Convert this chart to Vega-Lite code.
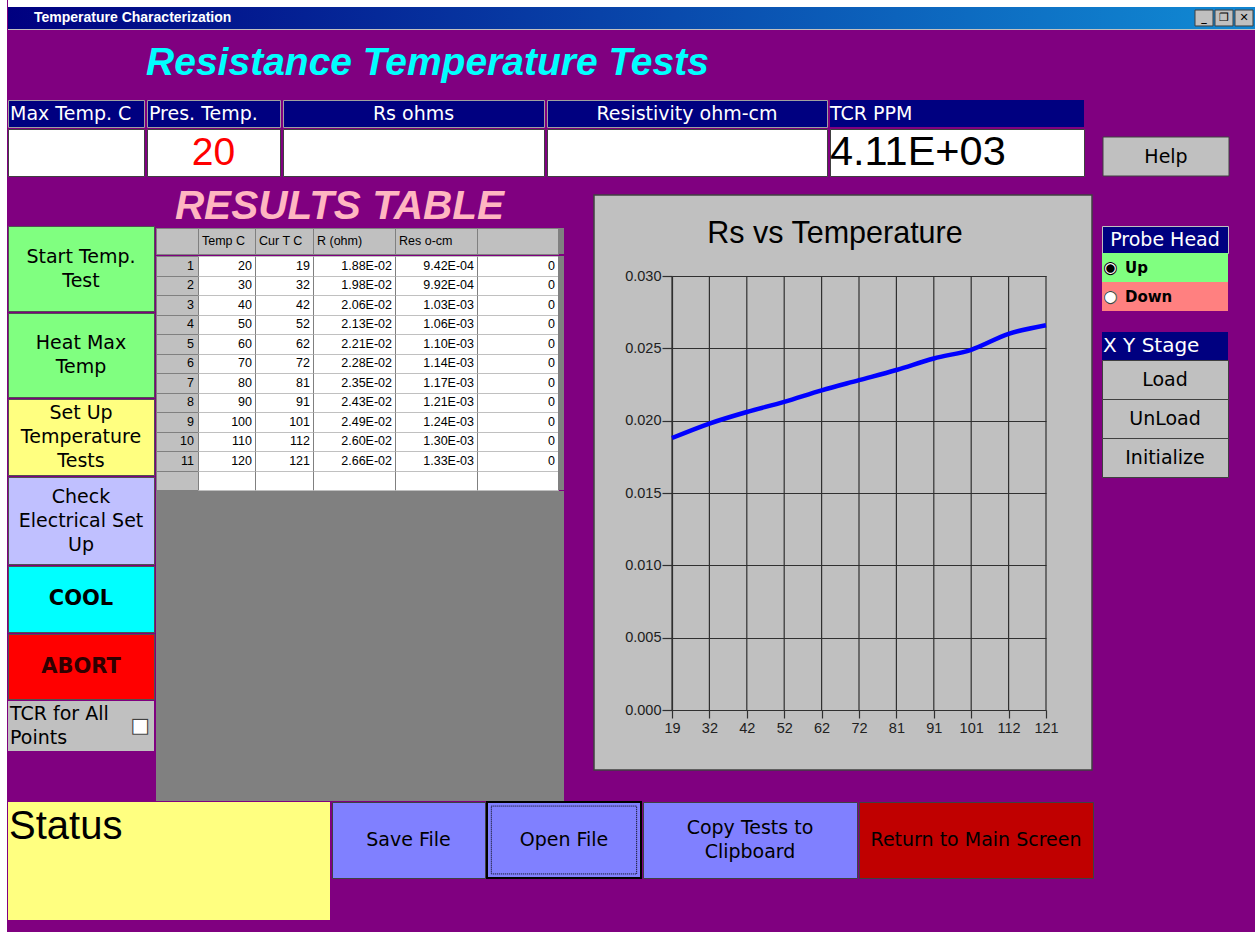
{
"$schema": "https://vega.github.io/schema/vega-lite/v6.json",
"padding": 0,
"background": "#800080",
"spacing": 0,
"config": {"view": {"stroke": null}, "text": {"font": "DejaVu Sans", "color": "#000000"}},
"datasets": {
"results": [
{"n":1,"temp":20,"cur":19,"r":0.0188,"rs":"1.88E-02","res":"9.42E-04","v":0},
{"n":2,"temp":30,"cur":32,"r":0.0198,"rs":"1.98E-02","res":"9.92E-04","v":0},
{"n":3,"temp":40,"cur":42,"r":0.0206,"rs":"2.06E-02","res":"1.03E-03","v":0},
{"n":4,"temp":50,"cur":52,"r":0.0213,"rs":"2.13E-02","res":"1.06E-03","v":0},
{"n":5,"temp":60,"cur":62,"r":0.0221,"rs":"2.21E-02","res":"1.10E-03","v":0},
{"n":6,"temp":70,"cur":72,"r":0.0228,"rs":"2.28E-02","res":"1.14E-03","v":0},
{"n":7,"temp":80,"cur":81,"r":0.0235,"rs":"2.35E-02","res":"1.17E-03","v":0},
{"n":8,"temp":90,"cur":91,"r":0.0243,"rs":"2.43E-02","res":"1.21E-03","v":0},
{"n":9,"temp":100,"cur":101,"r":0.0249,"rs":"2.49E-02","res":"1.24E-03","v":0},
{"n":10,"temp":110,"cur":112,"r":0.0260,"rs":"2.60E-02","res":"1.30E-03","v":0},
{"n":11,"temp":120,"cur":121,"r":0.0266,"rs":"2.66E-02","res":"1.33E-03","v":0}
],
"fields": [
{"field":"Max Temp. C","value":""},
{"field":"Pres. Temp.","value":"20"},
{"field":"Rs ohms","value":""},
{"field":"Resistivity ohm-cm","value":""},
{"field":"TCR PPM","value":"4.11E+03"}
]
},
"hconcat": [
{"width":7,"height":932,"view":{"fill":"#ffffff"},"data":{"values":[]},"mark":"rect"},
{"spacing":0,"vconcat":[
{"width":1248,"height":7,"view":{"fill":"#ffffff"},"data":{"values":[]},"mark":"rect"},
{"spacing":0,"bounds":"flush","hconcat":[
{"width":1184,"height":22,"data":{"values":[{"t":"Temperature Characterization"}]},"layer":[
{"mark":{"type":"rect","color":{"gradient":"linear","x1":0,"y1":0,"x2":1,"y2":0,"stops":[{"offset":0,"color":"#000080"},{"offset":1,"color":"#1084d0"}]}},"encoding":{}},
{"mark":{"type":"text","color":"#ffffff","font":"Liberation Sans","fontWeight":"bold","fontSize":14,"align":"left","dx":26},"encoding":{"text":{"field":"t","type":"nominal"},"x":{"datum":"a","type":"nominal","scale":{"type":"point","padding":0,"align":0},"axis":null}}}
]},
{"width":64,"height":22,"view":{"fill":"#1084d0"},"data":{"values":[{"b":"min","g":"_"},{"b":"max","g":"❐"},{"b":"close","g":"✕"}]},
"encoding":{"x":{"field":"b","type":"nominal","sort":null,"scale":{"paddingInner":0.1,"paddingOuter":0.15},"axis":null},"y":{"datum":"r","type":"nominal","scale":{"paddingOuter":0.19},"axis":null}},
"layer":[
{"mark":{"type":"rect","color":"#c0c0c0","stroke":"#404040","strokeWidth":1}},
{"mark":{"type":"text","fontWeight":"bold","fontSize":11,"color":"#000000"},"encoding":{"text":{"field":"g","type":"nominal"}}}
]}
]},
{"width":1248,"height":1,"view":{"fill":"#c0c0c0"},"data":{"values":[]},"mark":"rect"},
{"width":839,"height":69,"data":{"values":[{"t":"Resistance Temperature Tests"}]},"mark":{"type":"text","font":"Liberation Sans","fontSize":39,"fontStyle":"italic","fontWeight":"bold","color":"#00ffff","dy":-2},"encoding":{"text":{"field":"t","type":"nominal"}}},
{"spacing":0,"vconcat":[
{"spacing":3,"bounds":"flush","hconcat":[
{"width":136,"height":27,"view":{"fill":"#000080","stroke":"#a0a0a0"},"data":{"name":"fields"},"transform":[{"filter":"datum.field === 'Max Temp. C'"}],"mark":{"type":"text","color":"#ffffff","fontSize":19,"align":"left","dx":2},"encoding":{"text":{"field":"field","type":"nominal"},"x":{"datum":"a","type":"nominal","scale":{"type":"point","padding":0,"align":0},"axis":null}}},
{"width":133,"height":27,"view":{"fill":"#000080","stroke":"#a0a0a0"},"data":{"name":"fields"},"transform":[{"filter":"datum.field === 'Pres. Temp.'"}],"mark":{"type":"text","color":"#ffffff","fontSize":19,"align":"left","dx":2},"encoding":{"text":{"field":"field","type":"nominal"},"x":{"datum":"a","type":"nominal","scale":{"type":"point","padding":0,"align":0},"axis":null}}},
{"width":261,"height":27,"view":{"fill":"#000080","stroke":"#a0a0a0"},"data":{"name":"fields"},"transform":[{"filter":"datum.field === 'Rs ohms'"}],"mark":{"type":"text","color":"#ffffff","fontSize":19},"encoding":{"text":{"field":"field","type":"nominal"}}},
{"width":280,"height":27,"view":{"fill":"#000080","stroke":"#a0a0a0"},"data":{"name":"fields"},"transform":[{"filter":"datum.field === 'Resistivity ohm-cm'"}],"mark":{"type":"text","color":"#ffffff","fontSize":19},"encoding":{"text":{"field":"field","type":"nominal"}}},
{"width":254,"height":27,"view":{"fill":"#000080"},"data":{"name":"fields"},"transform":[{"filter":"datum.field === 'TCR PPM'"}],"mark":{"type":"text","color":"#ffffff","fontSize":19,"align":"left","dx":0},"encoding":{"text":{"field":"field","type":"nominal"},"x":{"datum":"a","type":"nominal","scale":{"type":"point","padding":0,"align":0},"axis":null}}}
]},
{"spacing":3,"bounds":"flush","hconcat":[
{"width":136,"height":47,"view":{"fill":"#ffffff","stroke":"#404040"},"data":{"name":"fields"},"transform":[{"filter":"datum.field === 'Max Temp. C'"}],"mark":{"type":"text","font":"Liberation Sans","fontSize":39},"encoding":{"text":{"field":"value","type":"nominal"}}},
{"width":133,"height":47,"view":{"fill":"#ffffff","stroke":"#404040"},"data":{"name":"fields"},"transform":[{"filter":"datum.field === 'Pres. Temp.'"}],"mark":{"type":"text","font":"Liberation Sans","fontSize":39,"color":"#ff0000"},"encoding":{"text":{"field":"value","type":"nominal"}}},
{"width":261,"height":47,"view":{"fill":"#ffffff","stroke":"#404040"},"data":{"name":"fields"},"transform":[{"filter":"datum.field === 'Rs ohms'"}],"mark":{"type":"text","font":"Liberation Sans","fontSize":39},"encoding":{"text":{"field":"value","type":"nominal"}}},
{"width":280,"height":47,"view":{"fill":"#ffffff","stroke":"#404040"},"data":{"name":"fields"},"transform":[{"filter":"datum.field === 'Resistivity ohm-cm'"}],"mark":{"type":"text","font":"Liberation Sans","fontSize":39},"encoding":{"text":{"field":"value","type":"nominal"}}},
{"width":254,"height":47,"view":{"fill":"#ffffff","stroke":"#404040"},"data":{"name":"fields"},"transform":[{"filter":"datum.field === 'TCR PPM'"}],"mark":{"type":"text","font":"Liberation Sans","fontSize":41.5,"align":"left","dx":0},"encoding":{"text":{"field":"value","type":"nominal"},"x":{"datum":"a","type":"nominal","scale":{"type":"point","padding":0,"align":0},"axis":null}}},
{"width":13,"height":47,"data":{"values":[]},"mark":"rect"},
{"width":126,"height":47,"data":{"values":[{"label":"Help"}]},"encoding":{"y":{"datum":"a","type":"nominal","scale":{"type":"band","paddingInner":0,"paddingOuter":0.1026,"align":1},"axis":null}},"layer":[
{"mark":{"type":"rect","color":"#c0c0c0","stroke":"#404040","strokeWidth":1}},
{"mark":{"type":"text","fontSize":19},"encoding":{"text":{"field":"label","type":"nominal"}}}
]}
]}
]},
{"spacing":0,"hconcat":[
{"spacing":2,"bounds":"flush","vconcat":[
{"width":146,"height":47,"data":{"values":[]},"mark":"rect"},
{"width":146,"height":85,"view":{"fill":"#80ff80","stroke":"#505050"},"data":{"values":[{"label":"Start Temp.\nTest"}]},"mark":{"type":"text","fontSize":19,"lineBreak":"\n","lineHeight":24,"dy":-12},"encoding":{"text":{"field":"label","type":"nominal"}}},
{"width":146,"height":84,"view":{"fill":"#80ff80","stroke":"#505050"},"data":{"values":[{"label":"Heat Max\nTemp"}]},"mark":{"type":"text","fontSize":19,"lineBreak":"\n","lineHeight":24,"dy":-12},"encoding":{"text":{"field":"label","type":"nominal"}}},
{"width":146,"height":76,"view":{"fill":"#ffff80","stroke":"#505050"},"data":{"values":[{"label":"Set Up\nTemperature\nTests"}]},"mark":{"type":"text","fontSize":19,"lineBreak":"\n","lineHeight":24,"dy":-24},"encoding":{"text":{"field":"label","type":"nominal"}}},
{"width":146,"height":87,"view":{"fill":"#c0c0ff","stroke":"#505050"},"data":{"values":[{"label":"Check\nElectrical Set\nUp"}]},"mark":{"type":"text","fontSize":19,"lineBreak":"\n","lineHeight":24,"dy":-24},"encoding":{"text":{"field":"label","type":"nominal"}}},
{"width":146,"height":66,"view":{"fill":"#00ffff","stroke":"#505050"},"data":{"values":[{"label":"COOL"}]},"mark":{"type":"text","fontSize":21,"fontWeight":"bold"},"encoding":{"text":{"field":"label","type":"nominal"}}},
{"width":146,"height":65,"view":{"fill":"#ff0000","stroke":"#505050"},"data":{"values":[{"label":"ABORT"}]},"mark":{"type":"text","fontSize":21,"fontWeight":"bold","color":"#300000"},"encoding":{"text":{"field":"label","type":"nominal"}}},
{"width":146,"height":50,"view":{"fill":"#c0c0c0"},"data":{"values":[{"label":"TCR for All\nPoints"}]},
"encoding":{"x":{"datum":"L","type":"nominal","scale":{"type":"point","padding":0,"domain":["L","R"]},"axis":null}},
"layer":[
{"mark":{"type":"text","fontSize":19,"lineBreak":"\n","lineHeight":24,"align":"left","dx":2,"dy":-12},"encoding":{"text":{"field":"label","type":"nominal"}}},
{"mark":{"type":"text","text":"■","color":"#ffffff","fontSize":21,"align":"right","dx":-4},"encoding":{"x":{"datum":"R","type":"nominal"}}},
{"mark":{"type":"text","text":"□","color":"#404040","fontSize":21,"align":"right","dx":-4},"encoding":{"x":{"datum":"R","type":"nominal"}}}
]}
]},
{"spacing":0,"vconcat":[
{"width":367,"height":49,"data":{"values":[{"t":"RESULTS TABLE"}]},"mark":{"type":"text","font":"Liberation Sans","fontSize":40.5,"fontStyle":"italic","fontWeight":"bold","color":"#ffb6c1","dy":5},"encoding":{"text":{"field":"t","type":"nominal"}}},
{"spacing":0,"bounds":"flush","hconcat":[
{"width":42,"height":26,"view":{"fill":"#c0c0c0","stroke":"#808080"},"data":{"values":[{"h":""}]},"mark":{"type":"text","font":"Liberation Sans","fontSize":12.5,"align":"left","dx":4},"encoding":{"text":{"field":"h","type":"nominal"},"x":{"datum":"a","type":"nominal","scale":{"type":"point","padding":0,"align":0},"axis":null}}},
{"width":57,"height":26,"view":{"fill":"#c0c0c0","stroke":"#808080"},"data":{"values":[{"h":"Temp C"}]},"mark":{"type":"text","font":"Liberation Sans","fontSize":12.5,"align":"left","dx":4},"encoding":{"text":{"field":"h","type":"nominal"},"x":{"datum":"a","type":"nominal","scale":{"type":"point","padding":0,"align":0},"axis":null}}},
{"width":58,"height":26,"view":{"fill":"#c0c0c0","stroke":"#808080"},"data":{"values":[{"h":"Cur T C"}]},"mark":{"type":"text","font":"Liberation Sans","fontSize":12.5,"align":"left","dx":4},"encoding":{"text":{"field":"h","type":"nominal"},"x":{"datum":"a","type":"nominal","scale":{"type":"point","padding":0,"align":0},"axis":null}}},
{"width":82,"height":26,"view":{"fill":"#c0c0c0","stroke":"#808080"},"data":{"values":[{"h":"R (ohm)"}]},"mark":{"type":"text","font":"Liberation Sans","fontSize":12.5,"align":"left","dx":4},"encoding":{"text":{"field":"h","type":"nominal"},"x":{"datum":"a","type":"nominal","scale":{"type":"point","padding":0,"align":0},"axis":null}}},
{"width":82,"height":26,"view":{"fill":"#c0c0c0","stroke":"#808080"},"data":{"values":[{"h":"Res o-cm"}]},"mark":{"type":"text","font":"Liberation Sans","fontSize":12.5,"align":"left","dx":4},"encoding":{"text":{"field":"h","type":"nominal"},"x":{"datum":"a","type":"nominal","scale":{"type":"point","padding":0,"align":0},"axis":null}}},
{"width":81,"height":26,"view":{"fill":"#c0c0c0","stroke":"#808080"},"data":{"values":[{"h":""}]},"mark":{"type":"text","font":"Liberation Sans","fontSize":12.5,"align":"left","dx":4},"encoding":{"text":{"field":"h","type":"nominal"},"x":{"datum":"a","type":"nominal","scale":{"type":"point","padding":0,"align":0},"axis":null}}},
{"width":6,"height":26,"view":{"fill":"#808080"},"data":{"values":[]},"mark":"rect"}
]},
{"spacing":0,"bounds":"flush","hconcat":[
{"width":42,"height":234,"view":{"fill":"#c0c0c0","stroke":"#808080"},"data":{"name":"results"},"mark":{"type":"text","font":"Liberation Sans","fontSize":12.5,"align":"right","dx":-4},"encoding":{"text":{"field":"n","type":"nominal"},"x":{"datum":"a","type":"nominal","scale":{"type":"point","padding":0,"align":1},"axis":null},"y":{"field":"n","type":"ordinal","scale":{"type":"band","domain":[1,2,3,4,5,6,7,8,9,10,11,12],"paddingInner":0,"paddingOuter":0},"axis":{"title":null,"labels":false,"ticks":false,"domain":false,"grid":true,"gridColor":"#808080","tickBand":"extent"}}}},
{"width":57,"height":234,"view":{"fill":"#ffffff","stroke":"#808080"},"data":{"name":"results"},"mark":{"type":"text","font":"Liberation Sans","fontSize":12.5,"align":"right","dx":-3},"encoding":{"text":{"field":"temp","type":"nominal"},"x":{"datum":"a","type":"nominal","scale":{"type":"point","padding":0,"align":1},"axis":null},"y":{"field":"n","type":"ordinal","scale":{"type":"band","domain":[1,2,3,4,5,6,7,8,9,10,11,12],"paddingInner":0,"paddingOuter":0},"axis":{"title":null,"labels":false,"ticks":false,"domain":false,"grid":true,"gridColor":"#c0c0c0","tickBand":"extent"}}}},
{"width":58,"height":234,"view":{"fill":"#ffffff","stroke":"#808080"},"data":{"name":"results"},"mark":{"type":"text","font":"Liberation Sans","fontSize":12.5,"align":"right","dx":-3},"encoding":{"text":{"field":"cur","type":"nominal"},"x":{"datum":"a","type":"nominal","scale":{"type":"point","padding":0,"align":1},"axis":null},"y":{"field":"n","type":"ordinal","scale":{"type":"band","domain":[1,2,3,4,5,6,7,8,9,10,11,12],"paddingInner":0,"paddingOuter":0},"axis":{"title":null,"labels":false,"ticks":false,"domain":false,"grid":true,"gridColor":"#c0c0c0","tickBand":"extent"}}}},
{"width":82,"height":234,"view":{"fill":"#ffffff","stroke":"#808080"},"data":{"name":"results"},"mark":{"type":"text","font":"Liberation Sans","fontSize":12.5,"align":"right","dx":-3},"encoding":{"text":{"field":"rs","type":"nominal"},"x":{"datum":"a","type":"nominal","scale":{"type":"point","padding":0,"align":1},"axis":null},"y":{"field":"n","type":"ordinal","scale":{"type":"band","domain":[1,2,3,4,5,6,7,8,9,10,11,12],"paddingInner":0,"paddingOuter":0},"axis":{"title":null,"labels":false,"ticks":false,"domain":false,"grid":true,"gridColor":"#c0c0c0","tickBand":"extent"}}}},
{"width":82,"height":234,"view":{"fill":"#ffffff","stroke":"#808080"},"data":{"name":"results"},"mark":{"type":"text","font":"Liberation Sans","fontSize":12.5,"align":"right","dx":-3},"encoding":{"text":{"field":"res","type":"nominal"},"x":{"datum":"a","type":"nominal","scale":{"type":"point","padding":0,"align":1},"axis":null},"y":{"field":"n","type":"ordinal","scale":{"type":"band","domain":[1,2,3,4,5,6,7,8,9,10,11,12],"paddingInner":0,"paddingOuter":0},"axis":{"title":null,"labels":false,"ticks":false,"domain":false,"grid":true,"gridColor":"#c0c0c0","tickBand":"extent"}}}},
{"width":81,"height":234,"view":{"fill":"#ffffff","stroke":"#808080"},"data":{"name":"results"},"mark":{"type":"text","font":"Liberation Sans","fontSize":12.5,"align":"right","dx":-3},"encoding":{"text":{"field":"v","type":"nominal"},"x":{"datum":"a","type":"nominal","scale":{"type":"point","padding":0,"align":1},"axis":null},"y":{"field":"n","type":"ordinal","scale":{"type":"band","domain":[1,2,3,4,5,6,7,8,9,10,11,12],"paddingInner":0,"paddingOuter":0},"axis":{"title":null,"labels":false,"ticks":false,"domain":false,"grid":true,"gridColor":"#c0c0c0","tickBand":"extent"}}}},
{"width":6,"height":234,"view":{"fill":"#808080"},"data":{"values":[]},"mark":"rect"}
]},
{"width":408,"height":310,"view":{"fill":"#808080"},"data":{"values":[]},"mark":"rect"}
]},
{"width":29,"height":1,"data":{"values":[]},"mark":"rect"},
{"spacing":0,"bounds":"flush","vconcat":[
{"width":498,"height":18,"data":{"values":[]},"mark":"rect"},
{"width":498,"height":575,"view":{"fill":"#c0c0c0","stroke":"#404040","strokeWidth":1.5},
"title":{"text":"Rs vs Temperature","font":"Liberation Sans","fontSize":30.5,"fontWeight":"normal","color":"#000000","anchor":"middle","frame":"group","baseline":"alphabetic","offset":-78,"dx":-8},
"data":{"name":"results"},
"encoding":{
"x":{"field":"cur","type":"ordinal","scale":{"type":"point","range":[78,452],"padding":0},"axis":{"title":null,"orient":"bottom","offset":-60,"labelAngle":0,"grid":false,"domainColor":"#303030","domainWidth":1.2,"tickColor":"#303030","tickWidth":1.2,"tickSize":8,"labelFont":"Liberation Sans","labelFontSize":14.5,"labelColor":"#202020","labelPadding":3}}
},
"layer":[
{"mark":{"type":"rule","color":"#303030","strokeWidth":1.2},"encoding":{
"y":{"datum":0,"type":"quantitative","scale":{"domain":[0,0.03],"range":[515,81],"nice":false,"zero":false},"axis":{"title":null,"orient":"left","offset":-78,"values":[0,0.005,0.01,0.015,0.02,0.025,0.03],"format":".3f","grid":true,"gridColor":"#303030","gridWidth":1.2,"domainColor":"#303030","domainWidth":1.2,"tickColor":"#303030","tickWidth":1.2,"tickSize":10,"labelFont":"Liberation Sans","labelFontSize":14.5,"labelColor":"#202020","labelPadding":1}},
"y2":{"datum":0.03}}},
{"mark":{"type":"line","color":"#0000ff","strokeWidth":4.5,"interpolate":"monotone"},"encoding":{"y":{"field":"r","type":"quantitative"}}}
]}
]},
{"width":8,"height":1,"data":{"values":[]},"mark":"rect"},
{"spacing":0,"bounds":"flush","vconcat":[
{"width":126,"height":49,"data":{"values":[]},"mark":"rect"},
{"width":126,"height":27,"view":{"fill":"#000080","stroke":"#c0c0c0"},"data":{"values":[{"t":"Probe Head"}]},"mark":{"type":"text","fontSize":19,"color":"#ffffff"},"encoding":{"text":{"field":"t","type":"nominal"}}},
{"width":126,"height":29,"view":{"fill":"#80ff80"},"data":{"values":[{"label":"Up","radio":"◉"}]},"encoding":{"x":{"datum":"a","type":"nominal","scale":{"type":"point","padding":0,"align":0},"axis":null}},"layer":[
{"mark":{"type":"text","text":"●","color":"#ffffff","fontSize":17,"align":"left","dx":1}},
{"mark":{"type":"text","color":"#000000","fontSize":17,"align":"left","dx":1},"encoding":{"text":{"field":"radio","type":"nominal"}}},
{"mark":{"type":"text","fontWeight":"bold","fontSize":15,"align":"left","dx":23},"encoding":{"text":{"field":"label","type":"nominal"}}}
]},
{"width":126,"height":29,"view":{"fill":"#ff8080"},"data":{"values":[{"label":"Down","radio":"○"}]},"encoding":{"x":{"datum":"a","type":"nominal","scale":{"type":"point","padding":0,"align":0},"axis":null}},"layer":[
{"mark":{"type":"text","text":"●","color":"#ffffff","fontSize":17,"align":"left","dx":1}},
{"mark":{"type":"text","color":"#404040","fontSize":17,"align":"left","dx":1},"encoding":{"text":{"field":"radio","type":"nominal"}}},
{"mark":{"type":"text","fontWeight":"bold","fontSize":15,"align":"left","dx":23},"encoding":{"text":{"field":"label","type":"nominal"}}}
]},
{"width":126,"height":21,"data":{"values":[]},"mark":"rect"},
{"width":126,"height":28,"view":{"fill":"#000080"},"data":{"values":[{"t":"X Y Stage"}]},"mark":{"type":"text","fontSize":20,"color":"#ffffff","align":"left","dx":1},"encoding":{"text":{"field":"t","type":"nominal"},"x":{"datum":"a","type":"nominal","scale":{"type":"point","padding":0,"align":0},"axis":null}}},
{"width":126,"height":39,"view":{"fill":"#c0c0c0","stroke":"#404040"},"data":{"values":[{"label":"Load"}]},"mark":{"type":"text","fontSize":19},"encoding":{"text":{"field":"label","type":"nominal"}}},
{"width":126,"height":39,"view":{"fill":"#c0c0c0","stroke":"#404040"},"data":{"values":[{"label":"UnLoad"}]},"mark":{"type":"text","fontSize":19},"encoding":{"text":{"field":"label","type":"nominal"}}},
{"width":126,"height":39,"view":{"fill":"#c0c0c0","stroke":"#404040"},"data":{"values":[{"label":"Initialize"}]},"mark":{"type":"text","fontSize":19},"encoding":{"text":{"field":"label","type":"nominal"}}}
]}
]},
{"spacing":2,"bounds":"flush","hconcat":[
{"width":322,"height":118,"view":{"fill":"#ffff80"},"data":{"values":[{"t":"Status"}]},"mark":{"type":"text","font":"Liberation Sans","fontSize":40,"align":"left","baseline":"top","dx":1,"dy":5},"encoding":{"text":{"field":"t","type":"nominal"},"x":{"datum":"a","type":"nominal","scale":{"type":"point","padding":0,"align":0},"axis":null},"y":{"datum":"a","type":"nominal","scale":{"type":"point","padding":0,"align":0},"axis":null}}},
{"width":153,"height":76,"view":{"fill":"#8080ff","stroke":"#404040"},"data":{"values":[{"label":"Save File"}]},"mark":{"type":"text","fontSize":19},"encoding":{"text":{"field":"label","type":"nominal"}}},
{"width":154,"height":76,"view":{"fill":"#8080ff","stroke":"#000000","strokeWidth":2},"data":{"values":[{"label":"Open File"}]},
"encoding":{"x":{"datum":"a","type":"nominal","scale":{"type":"band","paddingInner":0,"paddingOuter":0.03},"axis":null},"y":{"datum":"a","type":"nominal","scale":{"type":"band","paddingInner":0,"paddingOuter":0.06},"axis":null}},
"layer":[
{"mark":{"type":"rect","fill":null,"fillOpacity":0,"stroke":"#000000","strokeWidth":1,"strokeDash":[1,1]}},
{"mark":{"type":"text","fontSize":19},"encoding":{"text":{"field":"label","type":"nominal"}}}
]},
{"width":214,"height":76,"view":{"fill":"#8080ff","stroke":"#404040"},"data":{"values":[{"label":"Copy Tests to\nClipboard"}]},"mark":{"type":"text","fontSize":19,"lineBreak":"\n","lineHeight":24,"dy":-12},"encoding":{"text":{"field":"label","type":"nominal"}}},
{"width":234,"height":76,"view":{"fill":"#c00000","stroke":"#404040"},"data":{"values":[{"label":"Return to Main Screen"}]},"mark":{"type":"text","fontSize":19},"encoding":{"text":{"field":"label","type":"nominal"}}}
]}
]}
]
}
